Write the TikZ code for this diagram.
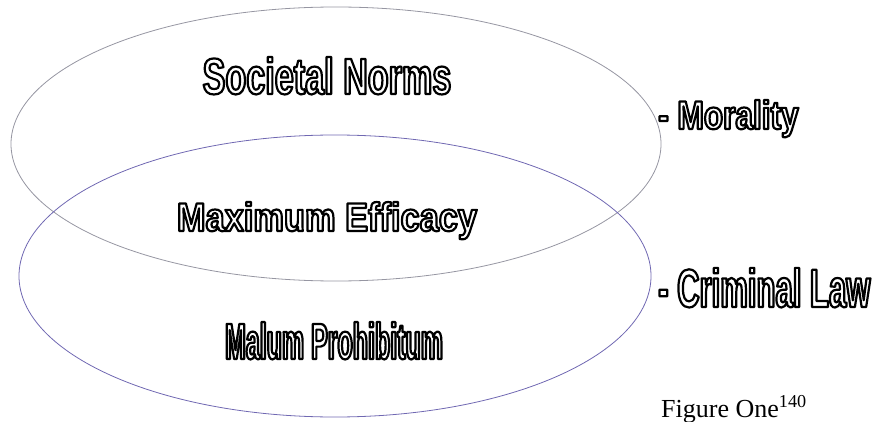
\documentclass[tikz,border=0pt]{standalone}
\usepackage{fontspec}
\setmainfont{Liberation Serif}
\newfontfamily\outfont{Liberation Sans}[BoldFont=* Bold]

\definecolor{normgray}{RGB}{150,150,162}
\definecolor{lawblue}{RGB}{112,104,178}

% hollow lettering: glyphs stroked, not filled
\newcommand{\hollow}[1]{%
  \special{pdf:literal direct 1 Tr 2.2 w 1 j 0 G}#1\special{pdf:literal direct 0 Tr}}

\tikzset{
  ring/.style={line width=0.8pt},
  bigword/.style={inner sep=0pt, font=\outfont\bfseries\fontsize{#1}{#1}\selectfont},
}

\begin{document}
\begin{tikzpicture}[x=1pt, y=-1pt]
  \useasboundingbox (0,0) rectangle (874,422);

  % the two overlapping sets
  \draw[ring, normgray] (336,144) ellipse [x radius=325, y radius=137];
  \draw[ring, lawblue] (335,276) ellipse [x radius=316, y radius=141];

  \node[bigword=51, anchor=base] (norms) at (327,94)
    {\addfontfeatures{FakeStretch=0.67}\hollow{Societal Norms}};
  \node[bigword=40, anchor=base] (efficacy) at (327,231)
    {\addfontfeatures{FakeStretch=0.86}\hollow{Maximum Efficacy}};
  \node[bigword=51, anchor=base] (malum) at (334,359)
    {\addfontfeatures{FakeStretch=0.49}\hollow{Malum Prohibitum}};

  % labels on the right
  \node[bigword=40, anchor=base west] (morality) at (658,129)
    {\addfontfeatures{FakeStretch=0.79}\hollow{- Morality}};
  \node[bigword=54, anchor=base west] (crimlaw) at (658,307)
    {\addfontfeatures{FakeStretch=0.575}\hollow{- Criminal Law}};

  \node[anchor=base west, inner sep=0pt, font=\fontsize{26}{26}\selectfont]
    (caption) at (661,417) {Figure One\textsuperscript{140}};
\end{tikzpicture}
\end{document}
